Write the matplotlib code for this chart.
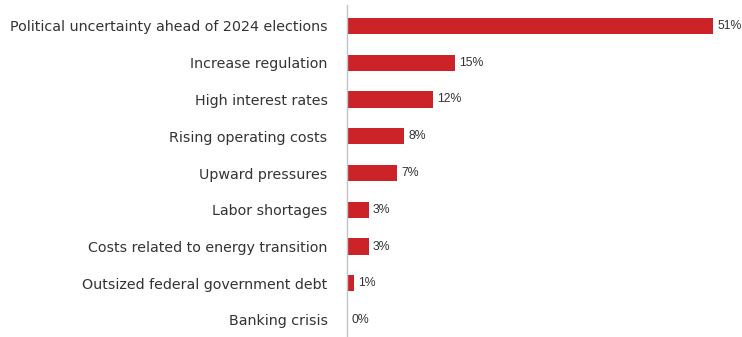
import matplotlib
matplotlib.use("Agg")
import matplotlib.pyplot as plt

categories = [
    "Political uncertainty ahead of 2024 elections",
    "Increase regulation",
    "High interest rates",
    "Rising operating costs",
    "Upward pressures",
    "Labor shortages",
    "Costs related to energy transition",
    "Outsized federal government debt",
    "Banking crisis",
]
values = [51, 15, 12, 8, 7, 3, 3, 1, 0]

W, H = 742, 337
fig = plt.figure(figsize=(W / 100, H / 100), dpi=100, facecolor="white")
# axes from the vertical rule (x=347px) to the right edge, y from 5px to bottom
ax = fig.add_axes([347 / W, 0, 1 - 347 / W, (H - 5) / H])

red = "#cc2329"
text_c = "#333333"
pos = list(range(len(categories)))
ax.barh(pos, values, height=0.44, color=red, zorder=2)

ax.set_xlim(0, 395 / 7.18)
ax.set_ylim(8 + 17 / 36.75, -21 / 36.75)

for y, v in zip(pos, values):
    ax.annotate(f"{v}%", (v, y), xytext=(3.0, 0), textcoords="offset points",
                va="center", ha="left", fontsize=8.8, color=text_c,
                family="Liberation Sans")

ax.set_yticks(pos)
ax.set_yticklabels(categories, fontsize=10.3, color=text_c)
ax.tick_params(axis="y", length=0, pad=14)
ax.set_xticks([])
for s in ("top", "right", "bottom"):
    ax.spines[s].set_visible(False)
ax.spines["left"].set_color("#c4c4c4")
ax.spines["left"].set_linewidth(1.0)

fig.savefig("out.png", dpi=100)
